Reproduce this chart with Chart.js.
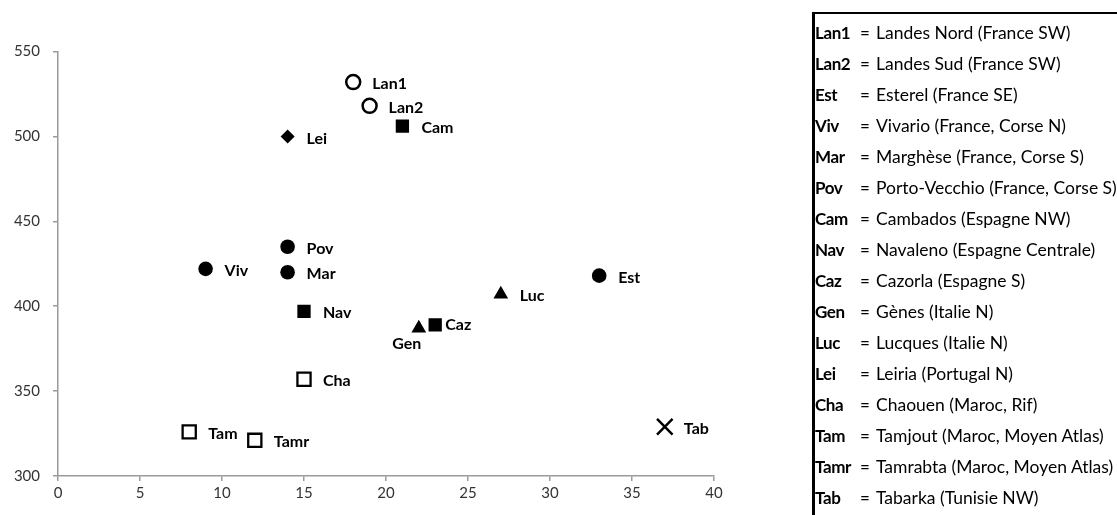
<!DOCTYPE html>
<html>
<head>
<meta charset="utf-8">
<script src="https://cdn.jsdelivr.net/npm/chart.js@4/dist/chart.umd.min.js"></script>
<style>
  html, body { margin: 0; padding: 0; background: #fff; overflow: hidden; }
  #wrap { position: relative; width: 1117px; height: 515px; overflow: hidden; }
  #plot { position: absolute; left: 0; top: 0; }
  #key {
    position: absolute; left: 812px; top: 12px; width: 400px; height: 520px;
    border-left: 3px solid #000; border-top: 2px solid #000;
    padding-top: 3px; padding-left: 0;
    font-family: Lato, "Noto Sans", sans-serif; font-size: 17.5px; color: #000;
    white-space: nowrap;
  }
  #key .row { height: 31px; line-height: 31px; }
  #key .code { display: inline-block; width: 45px; font-weight: bold; font-size: 17px; letter-spacing: -0.4px; }
  #key .eq { display: inline-block; width: 16px; font-size: 17px; }
</style>
</head>
<body>
<div id="wrap">
  <canvas id="plot" width="1117" height="515"></canvas>
  <div id="key"></div>
</div>
<script>
// Provenances: short code, full name, x value, y value, marker family
const codes = ['Lan1','Lan2','Est','Viv','Mar','Pov','Cam','Nav','Caz','Gen','Luc','Lei','Cha','Tam','Tamr','Tab'];
const names = [
  'Landes Nord (France SW)',
  'Landes Sud (France SW)',
  'Esterel (France SE)',
  'Vivario (France, Corse N)',
  'Marghèse (France, Corse S)',
  'Porto-Vecchio (France, Corse S)',
  'Cambados (Espagne NW)',
  'Navaleno (Espagne Centrale)',
  'Cazorla (Espagne S)',
  'Gènes (Italie N)',
  'Lucques (Italie N)',
  'Leiria (Portugal N)',
  'Chaouen (Maroc, Rif)',
  'Tamjout (Maroc, Moyen Atlas)',
  'Tamrabta (Maroc, Moyen Atlas)',
  'Tabarka (Tunisie NW)'
];
const xValues = [18, 19, 33, 9, 14, 14, 21, 15, 23, 22, 27, 14, 15, 8, 12, 37];
const yValues = [532, 518, 418, 422, 420, 435, 506, 397, 389, 387, 407, 500, 357, 326, 321, 329];
const groups = ['openCircle','openCircle','circle','circle','circle','circle','square','square','square',
                'triangle','triangle','diamond','openSquare','openSquare','openSquare','cross'];
const xTicks = [0, 5, 10, 15, 20, 25, 30, 35, 40];
const yTicks = [300, 350, 400, 450, 500, 550];

// marker look per family
const markerStyle = {
  openCircle: { style: 'circle',   r: 7,   fill: '#fff', bw: 2.5 },
  circle:     { style: 'circle',   r: 7.3, fill: '#000', bw: 0 },
  square:     { style: 'rect',     r: 9.4, fill: '#000', bw: 0 },
  openSquare: { style: 'rect',     r: 9.3, fill: '#fff', bw: 2.3 },
  triangle:   { style: 'triangle', r: 8.5, fill: '#000', bw: 0 },
  diamond:    { style: 'rectRot',  r: 7,   fill: '#000', bw: 0 },
  cross:      { style: 'crossRot', r: 11,  fill: '#000', bw: 2.5 }
};

// where each point name sits relative to its marker
const labelPlace = {
  Caz: { dx: 10, dy: 0, align: 'left' },
  Gen: { dx: -12, dy: 15.5, align: 'center' }
};
const defaultPlace = { dx: 19, dy: 2, align: 'left' };

const FONT = 'Lato, "Noto Sans", sans-serif';

const pointNames = {
  id: 'pointNames',
  afterDatasetsDraw(chart) {
    const ctx = chart.ctx;
    const meta = chart.getDatasetMeta(0);
    ctx.save();
    ctx.font = 'bold 16px ' + FONT;
    ctx.fillStyle = '#000';
    ctx.textBaseline = 'middle';
    meta.data.forEach((pt, i) => {
      const p = labelPlace[codes[i]] || defaultPlace;
      ctx.textAlign = p.align;
      ctx.fillText(codes[i], pt.x + p.dx, pt.y + p.dy);
    });
    ctx.restore();
  }
};

new Chart(document.getElementById('plot'), {
  type: 'scatter',
  data: {
    datasets: [{
      data: xValues.map((x, i) => ({ x: x, y: yValues[i] })),
      pointStyle: c => markerStyle[groups[c.dataIndex]].style,
      pointRadius: c => markerStyle[groups[c.dataIndex]].r,
      pointHoverRadius: c => markerStyle[groups[c.dataIndex]].r,
      pointBackgroundColor: c => markerStyle[groups[c.dataIndex]].fill,
      pointBorderColor: '#000',
      pointBorderWidth: c => markerStyle[groups[c.dataIndex]].bw
    }]
  },
  options: {
    responsive: false,
    animation: false,
    events: [],
    layout: { padding: { left: 0, right: 403, top: 51.5, bottom: 0 } },
    plugins: { legend: { display: false }, tooltip: { enabled: false } },
    scales: {
      x: {
        type: 'linear',
        min: 0, max: 40,
        afterBuildTicks: s => { s.ticks = xTicks.map(v => ({ value: v })); },
        afterFit: s => { s.height = 39; },
        grid: { drawOnChartArea: false, drawTicks: true, tickLength: 5, color: '#9a9a9a', lineWidth: 1.5 },
        border: { display: true, color: '#9a9a9a', width: 1.5 },
        ticks: { padding: 3, color: '#333', font: { family: FONT, size: 15 } }
      },
      y: {
        type: 'linear',
        min: 300, max: 550,
        afterBuildTicks: s => { s.ticks = yTicks.map(v => ({ value: v })); },
        afterFit: s => { s.width = 58; },
        grid: { drawOnChartArea: false, drawTicks: true, tickLength: 5, color: '#9a9a9a', lineWidth: 1.5 },
        border: { display: true, color: '#9a9a9a', width: 1.5 },
        ticks: { padding: 13, color: '#333', font: { family: FONT, size: 15 } }
      }
    }
  },
  plugins: [pointNames]
});

// key table on the right
const key = document.getElementById('key');
codes.forEach((c, i) => {
  const row = document.createElement('div');
  row.className = 'row';
  row.innerHTML = '<span class="code">' + c + '</span><span class="eq">=</span>' + names[i];
  key.appendChild(row);
});
</script>
</body>
</html>
